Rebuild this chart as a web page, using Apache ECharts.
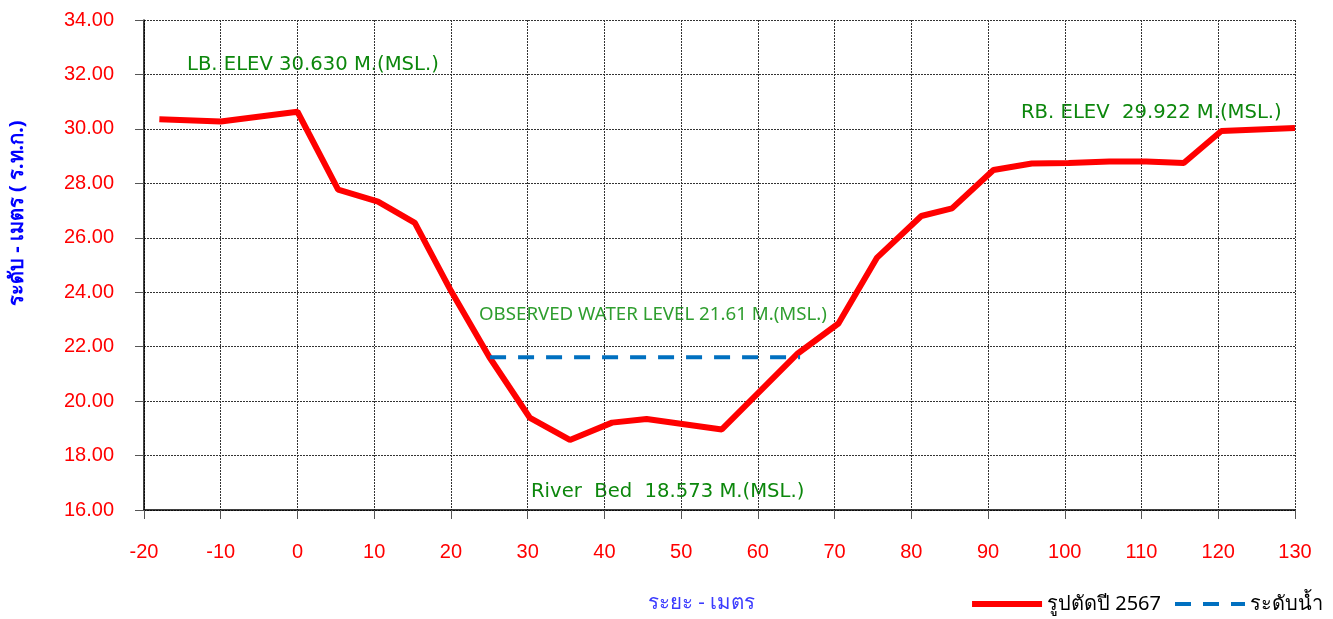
<!DOCTYPE html>
<html>
<head>
<meta charset="utf-8">
<script src="https://cdn.jsdelivr.net/npm/echarts@6/dist/echarts.min.js"></script>
<style>
html, body { margin: 0; padding: 0; background: #fff; }
#chart { width: 1333px; height: 619px; }
</style>
</head>
<body>
<div id="chart"></div>
<script>
// ระยะ (m) และ ระดับ (m MSL) ของรูปตัด
var distance = [-18, -10, 0, 5.3, 10.5, 15.3, 20, 25, 30.3, 35.5, 41, 45.5, 55.3, 65.2, 70.5, 75.5, 81.3, 85.3, 90.7, 95.7, 100.5, 105.8, 110.6, 115.5, 120.4, 130];
var elevation = [30.35, 30.27, 30.63, 27.77, 27.33, 26.55, 24.05, 21.62, 19.38, 18.573, 19.21, 19.34, 18.96, 21.75, 22.85, 25.26, 26.8, 27.08, 28.49, 28.73, 28.75, 28.8, 28.8, 28.75, 29.922, 30.03];

var waterX = [25.1, 65.5];
var waterLevel = 21.61;

var xTicks = { min: -20, max: 130, step: 10 };
var yTicks = { min: 16, max: 34, step: 2 };

var sectionName = 'รูปตัดปี 2567';
var waterName = 'ระดับน้ำ';

var myChart = echarts.init(document.getElementById('chart'));

var sectionData = [];
for (var i = 0; i < distance.length; i++) {
    sectionData.push([distance[i], elevation[i]]);
}
var waterData = [];
for (var j = 0; j < waterX.length; j++) {
    waterData.push([waterX[j], waterLevel]);
}

var gridLine = { show: true, lineStyle: { color: '#333', type: [2, 1], width: 1 } };
var axisFont = 'Liberation Sans, Arial, sans-serif';
var textFont = 'Noto Sans, Open Sans, sans-serif';
var wideFont = 'DejaVu Sans, sans-serif';

function note(text, x, y, color, font) {
    return {
        type: 'text', x: x, y: y,
        style: { text: text, fill: color, font: font, textVerticalAlign: 'middle' }
    };
}

var option = {
    animation: false,
    grid: { left: 144, right: 38, top: 20, bottom: 109, containLabel: false },
    xAxis: {
        type: 'value',
        min: xTicks.min,
        max: xTicks.max,
        interval: xTicks.step,
        axisLine: { show: true, onZero: false, lineStyle: { color: '#000', width: 1.5 } },
        axisTick: { show: true, length: 9, lineStyle: { color: '#555' } },
        axisLabel: { color: '#ff0000', fontSize: 20, fontFamily: axisFont, margin: 32 },
        splitLine: gridLine
    },
    yAxis: {
        type: 'value',
        min: yTicks.min,
        max: yTicks.max,
        interval: yTicks.step,
        axisLine: { show: true, onZero: false, lineStyle: { color: '#000', width: 1.5 } },
        axisTick: { show: true, length: 9, lineStyle: { color: '#555' } },
        axisLabel: {
            color: '#ff0000', fontSize: 20, fontFamily: axisFont, margin: 30,
            formatter: function (v) { return v.toFixed(2); }
        },
        splitLine: gridLine
    },
    legend: {
        right: 5,
        bottom: 0,
        itemWidth: 70,
        itemHeight: 12,
        itemGap: 12,
        itemStyle: { opacity: 0 },
        textStyle: { color: '#000', fontSize: 20, fontFamily: textFont },
        data: [
            { name: sectionName, lineStyle: { width: 6 } },
            { name: waterName, lineStyle: { width: 4 } }
        ]
    },
    series: [
        {
            name: sectionName,
            type: 'line',
            data: sectionData,
            symbol: 'none',
            lineStyle: { color: '#ff0000', width: 6 },
            itemStyle: { color: '#ff0000' },
            z: 3
        },
        {
            name: waterName,
            type: 'line',
            data: waterData,
            symbol: 'none',
            lineStyle: { color: '#0070c0', width: 4, type: [16, 12] },
            itemStyle: { color: '#0070c0' },
            z: 4
        }
    ],
    graphic: [
        note('LB. ELEV 30.630 M.(MSL.)', 187, 65, '#0c870c', '19.6px ' + wideFont),
        note('RB. ELEV  29.922 M.(MSL.)', 1021, 113, '#0c870c', '19.6px ' + wideFont),
        note('OBSERVED WATER LEVEL 21.61 M.(MSL.)', 479, 315, '#2f9e2f', '18.7px ' + textFont),
        note('River  Bed  18.573 M.(MSL.)', 531, 492, '#0c870c', '19.6px ' + wideFont),
        note('ระยะ - เมตร', 648, 603, '#3b3bff', '20.5px ' + textFont),
        {
            type: 'text', x: 7, y: 306, rotation: Math.PI / 2,
            style: { text: 'ระดับ - เมตร ( ร.ท.ก.)', fill: '#0000ff', font: 'bold 20px ' + textFont }
        }
    ]
};
myChart.setOption(option);
</script>
</body>
</html>
